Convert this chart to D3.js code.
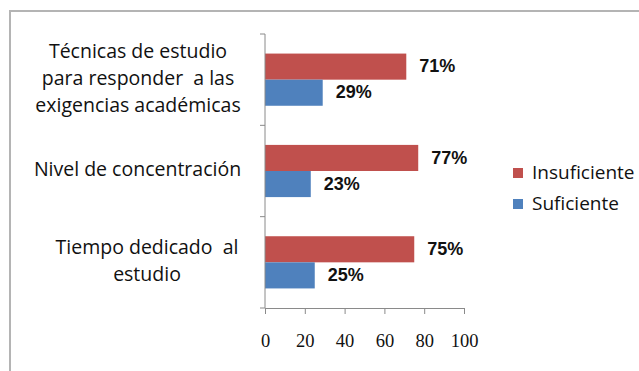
<!DOCTYPE html>
<html>
<head>
<meta charset="utf-8">
<script src="https://cdn.jsdelivr.net/npm/d3@7"></script>
<style>
  html, body { margin: 0; padding: 0; background: #fff; }
  svg { display: block; }
  .cat tspan { white-space: pre; }
</style>
</head>
<body>
<svg id="chart" width="639" height="371"></svg>
<script>
// Categories (top to bottom), each split into its wrapped lines
const categories = [
  "Técnicas de estudio para responder a las exigencias académicas",
  "Nivel de concentración",
  "Tiempo dedicado al estudio"
];
const categoryLines = [
  ["Técnicas de estudio", "para responder  a las", "exigencias académicas"],
  ["Nivel de concentración"],
  ["Tiempo dedicado  al", "estudio"]
];
const seriesNames = ["Insuficiente", "Suficiente"];
const insuficiente = [71, 77, 75];
const suficiente = [29, 23, 25];
const xTicks = [0, 20, 40, 60, 80, 100];
const colors = { "Insuficiente": "#C0504D", "Suficiente": "#4F81BD" };

const svg = d3.select("#chart");

// Outer chart frame
svg.append("path")
  .attr("d", "M10,371 V11 H639")
  .attr("fill", "none")
  .attr("stroke", "#b4b4b4")
  .attr("stroke-width", 2);

const plot = { left: 265, right: 464, top: 34, bottom: 308 };

const x = d3.scaleLinear().domain([0, 100]).range([plot.left, plot.right]);
const y = d3.scaleBand().domain(categories).range([plot.top, plot.bottom]);
const inner = d3.scaleBand().domain(seriesNames)
  .range([0, y.bandwidth()]).paddingOuter(0.75).paddingInner(0);

const rows = categories.map((c, i) => ({
  cat: c,
  values: [
    { series: "Insuficiente", value: insuficiente[i] },
    { series: "Suficiente", value: suficiente[i] }
  ]
}));

const groups = svg.append("g").selectAll("g")
  .data(rows).join("g")
  .attr("transform", d => `translate(0,${y(d.cat)})`);

groups.selectAll("rect")
  .data(d => d.values).join("rect")
  .attr("x", x(0))
  .attr("y", d => inner(d.series))
  .attr("width", d => x(d.value) - x(0))
  .attr("height", inner.bandwidth())
  .attr("fill", d => colors[d.series]);

groups.selectAll("text.val")
  .data(d => d.values).join("text")
  .attr("class", "val")
  .attr("x", d => x(d.value) + 13)
  .attr("y", d => inner(d.series) + inner.bandwidth() / 2 + 1)
  .attr("dominant-baseline", "middle")
  .attr("font-family", "'Liberation Sans', Arial, sans-serif")
  .attr("font-weight", "bold")
  .attr("font-size", 18)
  .attr("fill", "#111")
  .text(d => d.value + "%");

// Vertical category axis with ticks on band boundaries
const axisColor = "#8a8a8a";
const vAxis = svg.append("g");
vAxis.append("line")
  .attr("x1", plot.left).attr("x2", plot.left)
  .attr("y1", plot.top).attr("y2", plot.bottom)
  .attr("stroke", axisColor);
const bounds = categories.map(c => y(c)).concat([plot.bottom]);
vAxis.selectAll("line.tick").data(bounds).join("line")
  .attr("class", "tick")
  .attr("x1", plot.left - 5).attr("x2", plot.left)
  .attr("y1", d => d).attr("y2", d => d)
  .attr("stroke", axisColor);

// Horizontal value axis
const xAxis = d3.axisBottom(x).tickValues(xTicks).tickSize(6).tickPadding(20).tickSizeOuter(0);
const gx = svg.append("g")
  .attr("transform", `translate(0,${plot.bottom})`)
  .call(xAxis);
gx.select(".domain").attr("stroke", axisColor);
gx.selectAll(".tick line").attr("stroke", axisColor);
gx.selectAll(".tick text")
  .attr("font-family", "'Liberation Serif', 'DejaVu Serif', serif")
  .attr("font-size", 18.5)
  .attr("fill", "#111");

// Category labels, centred beside each band
const labelX = [138, 137.5, 147];
const lineH = 27;
svg.append("g").selectAll("text")
  .data(categoryLines).join("text")
  .attr("class", "cat")
  .attr("text-anchor", "middle")
  .attr("font-family", "'Open Sans', sans-serif")
  .attr("font-size", 19.5)
  .attr("fill", "#111")
  .each(function (lines, i) {
    const cy = y(categories[i]) + y.bandwidth() / 2;
    const start = cy - (lines.length - 1) * lineH / 2;
    d3.select(this).selectAll("tspan").data(lines).join("tspan")
      .attr("x", labelX[i])
      .attr("y", (l, j) => start + j * lineH)
      .attr("dominant-baseline", "middle")
      .text(l => l);
  });

// Legend
const legend = svg.append("g").selectAll("g")
  .data(seriesNames).join("g")
  .attr("transform", (d, i) => `translate(513,${168 + i * 31})`);
legend.append("rect")
  .attr("width", 10).attr("height", 10)
  .attr("fill", d => colors[d]);
legend.append("text")
  .attr("x", 19).attr("y", 5.5)
  .attr("dominant-baseline", "middle")
  .attr("font-family", "'Open Sans', sans-serif")
  .attr("font-size", 19)
  .attr("fill", "#111")
  .text(d => d);
</script>
</body>
</html>
